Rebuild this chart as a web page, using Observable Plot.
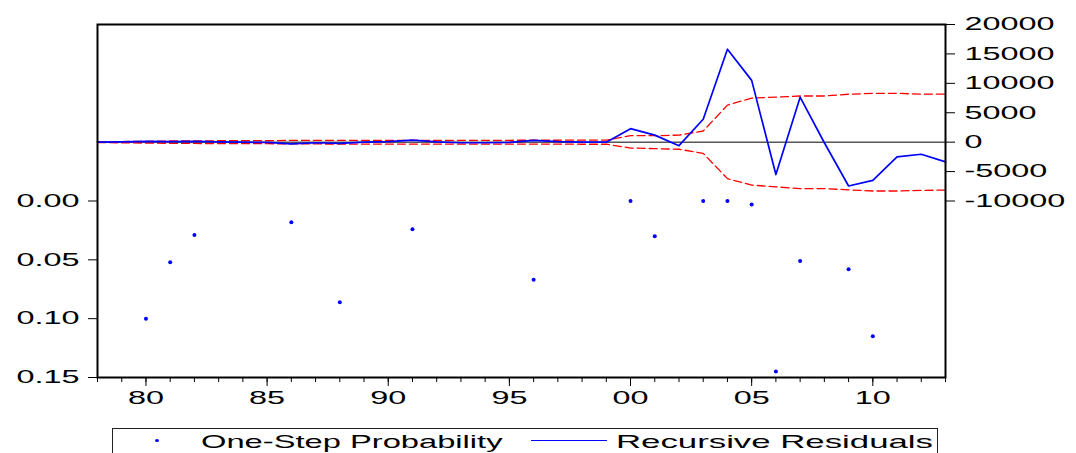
<!DOCTYPE html>
<html>
<head>
<meta charset="utf-8">
<script src="https://cdn.jsdelivr.net/npm/d3@7"></script>
<script src="https://cdn.jsdelivr.net/npm/@observablehq/plot@0.6"></script>
<style>
  html, body { margin: 0; padding: 0; background: #fff; overflow: hidden; }
  #wrap { position: relative; width: 1076px; height: 453px; font-family: "Liberation Sans", Arial, sans-serif; }
  #legend { position: absolute; left: 112px; top: 428px; width: 826px; height: 40px; border: 1.5px solid #222; box-sizing: border-box; }
  .lt { position: absolute; top: 2px; font-size: 19px; color: #000; white-space: nowrap; transform-origin: left center; }
</style>
</head>
<body>
<div id="wrap">
  <div id="chart"></div>
  <div id="legend">
    <div style="position:absolute; left:42px; top:10px; width:4px; height:3px; border-radius:50%; background:#0000ff;"></div>
    <span class="lt" style="left:88px; transform: scaleX(1.72);">One-Step Probability</span>
    <div style="position:absolute; left:418px; top:11px; width:76px; height:0; border-top:1.5px solid #0000ff;"></div>
    <span class="lt" style="left:503px; transform: scaleX(1.83);">Recursive Residuals</span>
  </div>
</div>
<script>
// ---- data ----
const years = d3.range(1978, 2014); // 1978..2013
const residuals = [0, 50, 150, 100, 150, 50, 0, -50, -300, -100, -200, 0, 100, 350, 50, -100, -100, -50, 300, 100, 0, 0,
                   2300, 1200, -600, 3900, 15800, 10500, -5500, 7650, -100, -7450, -6500, -2500, -2050, -3350];
const bandUpper = [80, 100, 150, 200, 220, 240, 250, 260, 300, 300, 320, 320, 320, 320, 320, 320, 320, 320, 330, 330, 350, 350,
                   1100, 1100, 1200, 1900, 6300, 7500, 7650, 7850, 7850, 8150, 8300, 8300, 8150, 8150];
const bandLower = [-80, -100, -150, -200, -220, -240, -250, -260, -300, -300, -320, -320, -320, -320, -320, -320, -320, -320, -330, -330, -350, -350,
                   -1000, -1100, -1200, -1900, -6200, -7300, -7600, -7900, -7900, -8100, -8300, -8300, -8200, -8150];
const probYears = [1980, 1981, 1982, 1986, 1988, 1991, 1996, 2000, 2001, 2003, 2004, 2005, 2006, 2007, 2009, 2010];
const probValues = [0.100, 0.052, 0.029, 0.018, 0.086, 0.024, 0.067, 0.000, 0.030, 0.000, 0.000, 0.003, 0.145, 0.051, 0.058, 0.115];
const probTicks = [0, 0.05, 0.10, 0.15];
const probTickLabels = ["0.00", "0.05", "0.10", "0.15"];
const residTicks = [-10000, -5000, 0, 5000, 10000, 15000, 20000];
const yearTicks = [1980, 1985, 1990, 1995, 2000, 2005, 2010];
const yearTickLabels = ["80", "85", "90", "95", "00", "05", "10"];

// probability axis is drawn in the lower part, sharing the residual scale:
// p = 0 sits at -10000, p = 0.15 at -40000
const pToY = p => -10000 - p * 200000;
const probTickPos = probTicks.map(pToY);

const resid = years.map((y, i) => ({year: y, r: residuals[i], up: bandUpper[i], lo: bandLower[i]}));
const probs = probYears.map((y, i) => ({year: y, p: probValues[i]}));

const chart = Plot.plot({
  width: 1076,
  height: 420,
  marginLeft: 97,
  marginRight: 131,
  marginTop: 24,
  marginBottom: 43,
  style: {fontFamily: "'Liberation Sans', Arial, sans-serif", fontSize: "18px", color: "#000", background: "#fff"},
  x: {domain: [1978, 2013], axis: null},
  y: {domain: [-40000, 20000], axis: null},
  marks: [
    Plot.ruleY([0], {stroke: "#000", strokeWidth: 1}),
    Plot.line(resid, {x: "year", y: "up", stroke: "#ff0000", strokeWidth: 1.3, strokeDasharray: "8,4"}),
    Plot.line(resid, {x: "year", y: "lo", stroke: "#ff0000", strokeWidth: 1.3, strokeDasharray: "8,4"}),
    Plot.line(resid, {x: "year", y: "r", stroke: "#0000ff", strokeWidth: 1.7}),
    Plot.dot(probs, {x: "year", y: d => pToY(d.p), r: 2, fill: "#0000ff"}),
    Plot.frame({stroke: "#000", strokeWidth: 2}),
    Plot.axisX(years, {tickSize: 5, tickFormat: () => "", stroke: "#000", label: null}),
    Plot.axisX(yearTicks, {tickSize: 9, tickPadding: 5, stroke: "#000", label: null,
      tickFormat: d => yearTickLabels[yearTicks.indexOf(d)]}),
    Plot.axisY(residTicks, {anchor: "right", tickSize: 9, tickPadding: 10, stroke: "#000", label: null,
      tickFormat: d => String(d)}),
    Plot.axisY(probTickPos, {anchor: "left", tickSize: 9, tickPadding: 9, stroke: "#000", label: null,
      tickFormat: d => probTickLabels[probTickPos.indexOf(d)]})
  ]
});

document.getElementById("chart").appendChild(chart);

// stretch the tick labels horizontally like the reference
chart.querySelectorAll('g[aria-label$="tick label"] > text').forEach(t => {
  const tr = t.getAttribute("transform") || "";
  t.setAttribute("transform", tr + " scale(1.8,1)");
});
</script>
</body>
</html>
